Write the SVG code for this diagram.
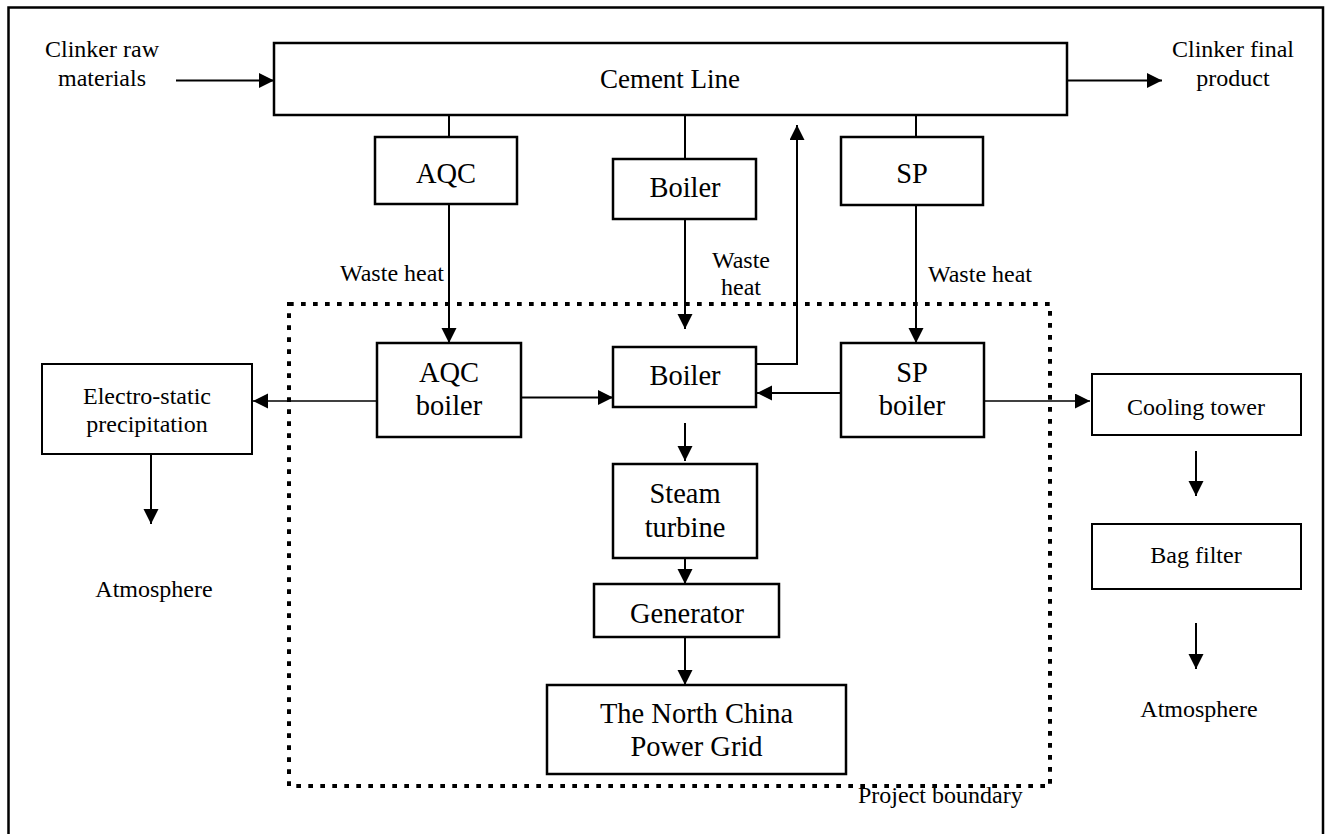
<svg xmlns="http://www.w3.org/2000/svg" width="1332" height="834" viewBox="0 0 1332 834">
<defs>
<marker id="ah" markerUnits="userSpaceOnUse" markerWidth="16" markerHeight="16" refX="15" refY="7.5" orient="auto">
<path d="M0,0 L15,7.5 L0,15 Z" fill="#000"/>
</marker>
<style>
.box{fill:#fff;stroke:#000;stroke-width:2.5}
.tbox{fill:#fff;stroke:#000;stroke-width:2}
.ln{fill:none;stroke:#000;stroke-width:2}
.lt{fill:none;stroke:#000;stroke-width:1.7}
.arr{marker-end:url(#ah)}
text{font-family:"Liberation Serif","Times New Roman",serif;fill:#000;text-anchor:middle}
.big{font-size:28.5px}
.sm{font-size:24px}
</style>
</defs>
<rect x="0" y="0" width="1332" height="834" fill="#fff"/>
<rect x="8.5" y="7.5" width="1314.5" height="840" fill="none" stroke="#000" stroke-width="2.5"/>

<g id="boundary">
<rect x="289" y="304" width="761" height="482" fill="none" stroke="#000" stroke-width="4" stroke-dasharray="4.7 7.3"/>
<text class="sm" x="858" y="803" style="text-anchor:start">Project boundary</text>
</g>

<g id="connectors">
<line class="ln arr" x1="176" y1="80.5" x2="274" y2="80.5"/>
<line class="ln arr" x1="1067" y1="80.5" x2="1162" y2="80.5"/>
<line class="ln" x1="449" y1="115" x2="449" y2="137"/>
<line class="ln" x1="685" y1="115" x2="685" y2="159"/>
<line class="ln" x1="916" y1="115" x2="916" y2="137"/>
<line class="ln arr" x1="449" y1="204" x2="449" y2="343"/>
<line class="ln arr" x1="685" y1="219" x2="685" y2="329"/>
<line class="ln arr" x1="916" y1="205" x2="916" y2="343"/>
<path class="ln arr" d="M756,364 H797 V125"/>
<line class="ln arr" x1="521" y1="397.5" x2="613" y2="397.5"/>
<line class="ln arr" x1="841" y1="393" x2="757" y2="393"/>
<line class="lt arr" x1="377" y1="401" x2="253" y2="401"/>
<line class="lt arr" x1="985" y1="401" x2="1090" y2="401"/>
<line class="ln arr" x1="685" y1="423" x2="685" y2="461"/>
<line class="ln arr" x1="685" y1="558" x2="685" y2="584"/>
<line class="ln arr" x1="685" y1="637" x2="685" y2="685"/>
<line class="ln arr" x1="151" y1="454" x2="151" y2="524"/>
<line class="ln arr" x1="1196" y1="451" x2="1196" y2="496"/>
<line class="ln arr" x1="1196" y1="623" x2="1196" y2="669"/>
</g>

<g id="lbl-raw"><text class="sm" x="102" y="57">Clinker raw</text><text class="sm" x="102" y="86">materials</text></g>
<g id="lbl-final"><text class="sm" x="1233" y="57">Clinker final</text><text class="sm" x="1233" y="86">product</text></g>
<g id="lbl-wh1"><text class="sm" x="392" y="281">Waste heat</text></g>
<g id="lbl-wh2"><text class="sm" x="741" y="268">Waste</text><text class="sm" x="741" y="295">heat</text></g>
<g id="lbl-wh3"><text class="sm" x="980" y="282">Waste heat</text></g>

<g id="cement-line"><rect class="box" x="274" y="43" width="793" height="72"/><text x="670" y="88" style="font-size:27px">Cement Line</text></g>
<g id="aqc"><rect class="box" x="375" y="137" width="142" height="67"/><text class="big" x="446" y="183">AQC</text></g>
<g id="boiler-top"><rect class="box" x="613" y="159" width="143" height="60"/><text class="big" x="685" y="197">Boiler</text></g>
<g id="sp"><rect class="box" x="841" y="137" width="142" height="68"/><text class="big" x="912" y="183">SP</text></g>
<g id="aqc-boiler"><rect class="box" x="377" y="343" width="144" height="94"/><text class="big" x="449" y="382">AQC</text><text class="big" x="449" y="415">boiler</text></g>
<g id="boiler"><rect class="box" x="613" y="347" width="143" height="60"/><text class="big" x="685" y="385">Boiler</text></g>
<g id="sp-boiler"><rect class="box" x="841" y="343" width="143" height="94"/><text class="big" x="912" y="382">SP</text><text class="big" x="912" y="415">boiler</text></g>
<g id="esp"><rect class="tbox" x="42" y="364" width="210" height="90"/><text class="sm" x="147" y="404">Electro-static</text><text class="sm" x="147" y="432">precipitation</text></g>
<g id="atm-left"><text class="sm" x="154" y="597">Atmosphere</text></g>
<g id="steam-turbine"><rect class="box" x="613" y="464" width="144" height="94"/><text class="big" x="685" y="503">Steam</text><text class="big" x="685" y="537">turbine</text></g>
<g id="generator"><rect class="box" x="594" y="584" width="185" height="53"/><text class="big" x="687" y="623">Generator</text></g>
<g id="grid"><rect class="box" x="547" y="685" width="299" height="89"/><text class="big" x="696.5" y="723">The North China</text><text class="big" x="696.5" y="756">Power Grid</text></g>
<g id="cooling-tower"><rect class="tbox" x="1092" y="374" width="209" height="61"/><text class="sm" x="1196" y="415">Cooling tower</text></g>
<g id="bag-filter"><rect class="tbox" x="1092" y="524" width="209" height="65"/><text class="sm" x="1196" y="563">Bag filter</text></g>
<g id="atm-right"><text class="sm" x="1199" y="717">Atmosphere</text></g>
</svg>
